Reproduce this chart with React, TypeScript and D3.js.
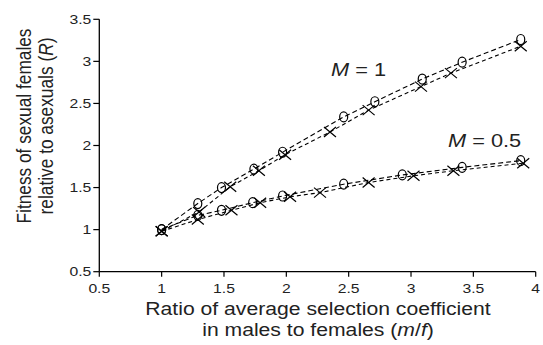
import React from 'react';
import * as d3 from 'd3';

// M = 1 series
const m1CircleX = [1.0, 1.29, 1.48, 1.74, 1.97, 2.46, 2.71, 3.09, 3.41, 3.88];
const m1CircleY = [1.0, 1.31, 1.5, 1.72, 1.92, 2.34, 2.52, 2.79, 2.99, 3.26];
const m1CrossX = [1.0, 1.3, 1.55, 1.78, 1.99, 2.35, 2.66, 3.08, 3.32, 3.88];
const m1CrossY = [0.98, 1.21, 1.51, 1.7, 1.89, 2.16, 2.42, 2.7, 2.86, 3.18];

// M = 0.5 series
const m05CircleX = [1.0, 1.29, 1.48, 1.73, 1.97, 2.46, 2.93, 3.41, 3.88];
const m05CircleY = [1.0, 1.17, 1.23, 1.32, 1.4, 1.54, 1.65, 1.74, 1.82];
const m05CrossX = [1.0, 1.29, 1.56, 1.79, 2.03, 2.27, 2.66, 3.02, 3.34, 3.9];
const m05CrossY = [0.98, 1.12, 1.23, 1.32, 1.39, 1.44, 1.56, 1.64, 1.7, 1.79];

const xTicks = [0.5, 1, 1.5, 2, 2.5, 3, 3.5, 4];
const yTicks = [0.5, 1, 1.5, 2, 2.5, 3, 3.5];

const FONT = '"Liberation Sans", Arial, Helvetica, sans-serif';
const SX = 1.21; // text in the reference is stretched horizontally

const x = d3.scaleLinear().domain([0.5, 4]).range([99.3, 535.7]);
const y = d3.scaleLinear().domain([0.5, 3.5]).range([271.7, 19.3]);

const zip = (xs: number[], ys: number[]) => xs.map((v, i) => [v, ys[i]] as [number, number]);

const line = d3
    .line<[number, number]>()
    .x((d) => x(d[0]))
    .y((d) => y(d[1]));

function Circles({ pts }: { pts: [number, number][] }) {
    return (
        <g>
            {pts.map((d, i) => (
                <ellipse key={i} cx={x(d[0])} cy={y(d[1])} rx={4} ry={5} fill="none" stroke="#000" strokeWidth={1.2} />
            ))}
        </g>
    );
}

function Crosses({ pts }: { pts: [number, number][] }) {
    const w = 6, h = 5;
    return (
        <g>
            {pts.map((d, i) => {
                const cx = x(d[0]), cy = y(d[1]);
                return (
                    <path
                        key={i}
                        d={`M${cx - w},${cy - h}L${cx + w},${cy + h}M${cx - w},${cy + h}L${cx + w},${cy - h}`}
                        stroke="#000"
                        strokeWidth={1.2}
                        fill="none"
                    />
                );
            })}
        </g>
    );
}

function Label({ tx, ty, anchor, size, children }: any) {
    return (
        <g transform={`translate(${tx},${ty}) scale(${SX},1)`}>
            <text x={0} y={0} textAnchor={anchor} fontSize={size} fontFamily={FONT} fill="#222">
                {children}
            </text>
        </g>
    );
}

export default function App() {
    const series = [
        { pts: zip(m1CircleX, m1CircleY), kind: 'o', dash: '5,3' },
        { pts: zip(m1CrossX, m1CrossY), kind: 'x', dash: '4,3' },
        { pts: zip(m05CircleX, m05CircleY), kind: 'o', dash: '5,3' },
        { pts: zip(m05CrossX, m05CrossY), kind: 'x', dash: '4,3' },
    ];

    return (
        <svg width={543} height={345} style={{ position: 'absolute', left: 0, top: 0, background: '#fff' }}>
            {/* axes */}
            <line x1={x(0.5)} x2={x(0.5)} y1={y(3.5)} y2={y(0.5)} stroke="#000" strokeWidth={1.3} />
            <line x1={x(0.5)} x2={x(4)} y1={y(0.5)} y2={y(0.5)} stroke="#000" strokeWidth={1.3} />
            {yTicks.map((t) => (
                <g key={'y' + t}>
                    <line x1={x(0.5) - 6} x2={x(0.5)} y1={y(t)} y2={y(t)} stroke="#000" strokeWidth={1.2} />
                    <Label tx={x(0.5) - 8} ty={y(t) + 4.5} anchor="end" size={13}>
                        {t}
                    </Label>
                </g>
            ))}
            {xTicks.map((t) => (
                <g key={'x' + t}>
                    <line x1={x(t)} x2={x(t)} y1={y(0.5)} y2={y(0.5) + 5} stroke="#000" strokeWidth={1.2} />
                    <Label tx={x(t)} ty={293} anchor="middle" size={13}>
                        {t}
                    </Label>
                </g>
            ))}

            {/* series */}
            {series.map((s, i) => (
                <g key={i}>
                    <path d={line(s.pts) || ''} fill="none" stroke="#000" strokeWidth={1.1} strokeDasharray={s.dash} />
                    {s.kind === 'o' ? <Circles pts={s.pts} /> : <Crosses pts={s.pts} />}
                </g>
            ))}

            {/* annotations */}
            <Label tx={331} ty={76} anchor="start" size={18}>
                <tspan fontStyle="italic">M</tspan> = 1
            </Label>
            <Label tx={448} ty={147} anchor="start" size={18}>
                <tspan fontStyle="italic">M</tspan> = 0.5
            </Label>

            {/* x title */}
            <Label tx={318} ty={315} anchor="middle" size={17.5}>
                Ratio of average selection coefficient
            </Label>
            <Label tx={318} ty={336} anchor="middle" size={17.5}>
                in males to females (<tspan fontStyle="italic">m</tspan>/<tspan fontStyle="italic">f</tspan>)
            </Label>

            {/* y title */}
            <g transform={`translate(31,126) rotate(-90) scale(1,${SX})`}>
                <text x={0} y={0} textAnchor="middle" fontSize={17.3} fontFamily={FONT} fill="#222">
                    Fitness of sexual females
                </text>
            </g>
            <g transform={`translate(52.5,126) rotate(-90) scale(1,${SX})`}>
                <text x={0} y={0} textAnchor="middle" fontSize={17.3} fontFamily={FONT} fill="#222">
                    relative to asexuals (<tspan fontStyle="italic">R</tspan>)
                </text>
            </g>
        </svg>
    );
}
